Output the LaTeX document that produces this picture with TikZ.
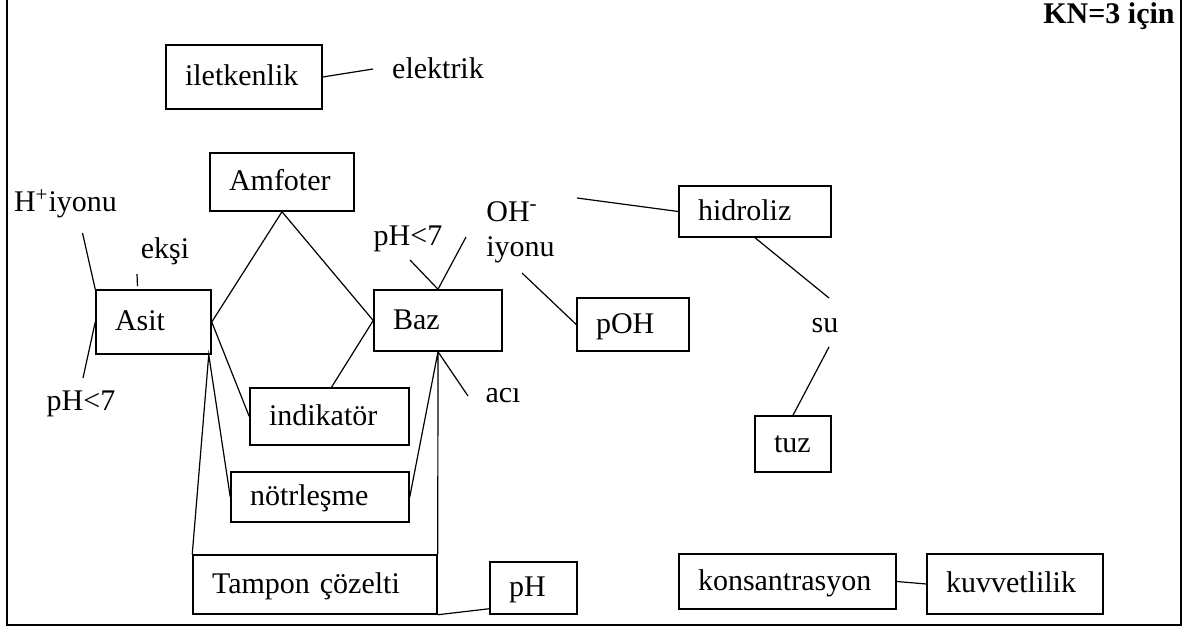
\documentclass[tikz,border=0pt]{standalone}
\usepackage{fontspec}
\setmainfont{Liberation Serif}
\usepackage{tikz}

\begin{document}
\begin{tikzpicture}[x=0.5pt, y=-0.5pt,
    font=\fontsize{15}{17.5}\selectfont,
    box/.style 2 args={draw, line width=0.75pt, text width=#1, minimum height=#2,
        align=left, inner xsep=9.5pt, inner ysep=0pt, text height=1.08em, text depth=0.2em},
    lbl/.style={inner sep=0pt, anchor=base},
    link/.style={line width=0.6pt},
    frame/.style={line width=1pt}]
    \useasboundingbox (0,0) rectangle (1190,630);
    \draw[frame] (6.5,-5) |- (1181,625) -- (1181,-5);
    \node[font=\fontsize{15}{17.5}\selectfont\bfseries, inner sep=0pt, anchor=base east] (kn) at (1175,24) {KN=3 için};

    % boxes
    \node[box={59pt}{32pt}] (ilet) at (244,77) {iletkenlik};
    \node[box={53pt}{29pt}] (amf) at (282,182) {Amfoter};
    \node[box={38.5pt}{32pt}] (asit) at (153.5,322) {Asit};
    \node[box={45pt}{30.5pt}] (baz) at (438,320.5) {Baz};
    \node[box={60.5pt}{28.5pt}] (ind) at (329.5,416.5) {indikatör};
    \node[box={70pt}{25pt}] (notr) at (320,497) {nötrleşme};
    \node[box={103pt}{29.5pt}] (tamp) at (315,584.5) {Tampon çözelti};
    \node[box={24.5pt}{26pt}] (ph) at (533.5,588) {pH};
    \node[box={37pt}{26.5pt}] (poh) at (633,324.5) {pOH};
    \node[box={57pt}{25.5pt}] (hidr) at (755,211.5) {hidroliz};
    \node[box={19pt}{28pt}] (tuz) at (793,444) {tuz};
    \node[box={89.5pt}{27.5pt}] (kons) at (787.5,581.5) {konsantrasyon};
    \node[box={69pt}{30pt}] (kuvv) at (1015,584) {kuvvetlilik};

    % free words
    \node[lbl] (elek) at (438,79) {elektrik};
    \node[lbl] (hion) at (65.5,212) {H\textsuperscript{+}iyonu};
    \node[lbl] (eksi) at (165,259) {ekşi};
    \node[lbl] (pha) at (81,411) {pH<7};
    \node[lbl] (phb) at (408,246) {pH<7};
    \node[inner sep=0pt, anchor=north west, align=left] (ohion) at (486,201) {OH\textsuperscript{-}\\iyonu};
    \node[lbl] (aci) at (503,403) {acı};
    \node[lbl] (su) at (825,333) {su};

    % connectors
    \draw[link] (ilet.east) -- ([shift={(-65,-10)}]elek.base);
    \draw[link] (asit.north west) -- ([shift={(17,21)}]hion.base);
    \draw[link] ([shift={(-28,15)}]eksi.base) -- ([shift={(-16,-3)}]asit.north);
    \draw[link] (asit.west) -- ([shift={(2,-33)}]pha.base);
    \draw[link] (asit.east) -- (amf.south) -- (baz.west);
    \draw[link] (asit.east) -- (ind.west);
    \draw[link] (baz.west) -- ([xshift=1pt]ind.north);
    \draw[link] ([shift={(2,14)}]phb.base) -- (baz.north) -- ([shift={(-20,36)}]ohion.north west);
    \draw[link] (baz.south) -- ([shift={(-35,-7)}]aci.base);
    \draw[link] (notr.east) -- (baz.south) -- (tamp.north east);
    \draw[link] (notr.west) -- ([xshift=-1.5pt]asit.south east) -- (tamp.north west);
    \draw[link] (tamp.south east) -- ([yshift=3pt]ph.south west);
    \draw[link] ([shift={(36,72)}]ohion.north west) -- (poh.west);
    \draw[link] ([shift={(91,-3)}]ohion.north west) -- (hidr.west);
    \draw[link] (hidr.south) -- ([shift={(4,-35)}]su.base);
    \draw[link] ([shift={(4,14)}]su.base) -- (tuz.north);
    \draw[link] (kons.east) -- (kuvv.west);
\end{tikzpicture}
\end{document}
